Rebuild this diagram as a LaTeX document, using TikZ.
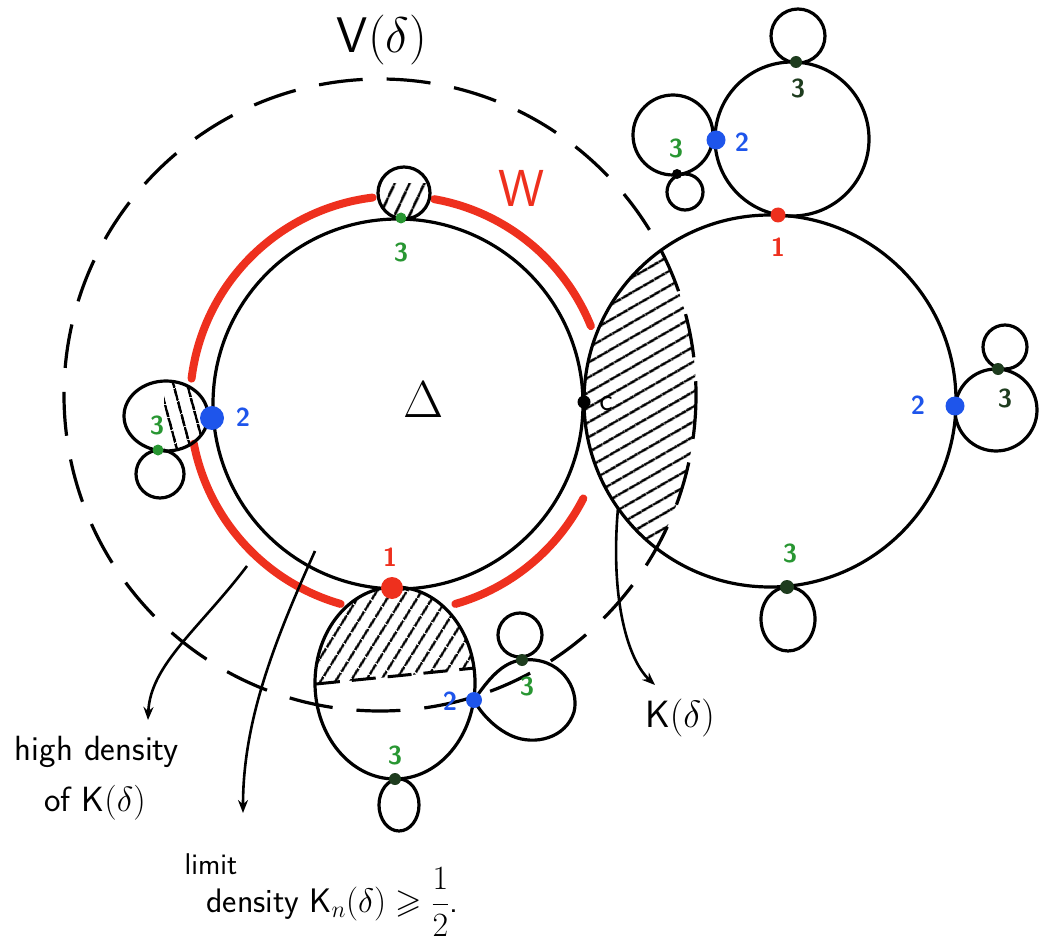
\documentclass[tikz,border=0pt]{standalone}
\usepackage{fix-cm}
\usepackage{amssymb}
\usepackage{amsmath}
\usepackage{tikz}
\usetikzlibrary{arrows.meta,patterns.meta}
\definecolor{wred}{RGB}{238,48,30}
\definecolor{vblue}{RGB}{30,85,235}
\definecolor{vgreen}{RGB}{40,150,50}
\definecolor{vdark}{RGB}{30,60,30}
\newcommand{\handsz}[1]{\fontsize{#1}{#1}\selectfont\sffamily}
\tikzset{%
  edge/.style={%
    line width=3.2pt
  },
  warc/.style={%
    draw=wred,
    line width=8pt,
    line cap=round
  },
  vline/.style={%
    line width=3.2pt,
    dash pattern=on 44pt off 24pt
  },
  ptr/.style={%
    -{Stealth[length=13pt,width=10pt]},
    line width=2.6pt
  },
  hatch/.style={%
    pattern={Lines[angle=#1,distance=13pt,line width=2.8pt]}
  },
  vdot/.style={%
    circle,
    fill=#1,
    inner sep=0pt,
    minimum size=12pt
  },
  lbl/.style={%
    text=#1,
    font=\handsz{26}\bfseries
  },
  txt/.style={%
    font=\handsz{35},
    align=center
  }
}

\begin{document}
\begin{tikzpicture}[x=1pt,y=-1pt]
    \useasboundingbox (0,0) rectangle (1039,941);

    % hatched parts
    \begin{scope}
      \clip (770,401) circle (186);
      \fill[hatch=30] (380,395) circle (316);
    \end{scope}
    \begin{scope}
      \clip (395,683) ellipse (80 and 96);
      \fill[hatch=58] (305,580) -- (485,580) -- (485,668) -- (305,685) -- cycle;
    \end{scope}
    \begin{scope}
      \clip (404,193) circle (26);
      \fill[hatch=65] (370,184) rectangle (440,225);
    \end{scope}
    \begin{scope}
      \clip (166,416) ellipse (42 and 35);
      \fill[hatch=105] (164,370) rectangle (220,460);
    \end{scope}

    % W around Delta
    \draw[warc] (398,404) ++(-22:208) arc[start angle=-22,end angle=-80,radius=208];
    \draw[warc] (398,404) ++(-97:208) arc[start angle=-97,end angle=-173,radius=208];
    \draw[warc] (398,404) ++(106:208) arc[start angle=106,end angle=169,radius=208];
    \draw[warc] (398,404) ++(27:208) arc[start angle=27,end angle=74,radius=208];
    \node[font=\handsz{52},text=wred] (w) at (522,188) {W};

    % V(delta)
    \draw[vline] (380,395) circle (316);
    \node[font=\handsz{50}] (v) at (382,40) {V$(\delta)$};

    % the two big circles
    \draw[edge] (398,404) circle (185);
    \draw[edge] (770,401) circle (186);
    \node[font=\handsz{52}] (delta) at (424,400) {$\Delta$};
    \node[font=\handsz{32}] (clab) at (606,404) {c};

    % bottom circle of Delta
    \draw[edge] (395,683) ellipse (80 and 96);
    \draw[line width=3pt,dash pattern=on 24pt off 12pt] (316,684) -- (475,668);
    \draw[edge] (474,700) .. controls (488,680) and (502,662) .. (522,660)
      .. controls (560,656) and (580,688) .. (574,712)
      .. controls (566,738) and (535,746) .. (512,736)
      .. controls (494,728) and (480,712) .. (474,700);
    \draw[edge] (520,635) circle (22);
    \draw[edge] (399,805) ellipse (20 and 26);

    % loops on Delta
    \draw[edge] (404,193) circle (26);
    \draw[edge] (166,416) ellipse (42 and 35);
    \draw[edge] (160,474) circle (24);

    % loops on the right circle
    \draw[edge] (792,139) circle (77);
    \draw[edge] (798,36) circle (27);
    \draw[edge] (673,135) circle (40);
    \draw[edge] (685,192) circle (18);
    \draw[edge] (996,410) circle (41);
    \draw[edge] (1005,347) circle (22);
    \draw[edge] (788,619) ellipse (27 and 32);

    % vertices
    \node[vdot=black,minimum size=13pt] (c) at (584,402) {};
    \node[vdot=wred,minimum size=22pt] (d1) at (392,588) {};
    \node[vdot=wred,minimum size=15pt] (r1) at (778,215) {};
    \node[vdot=vblue,minimum size=24pt] (d2) at (212,418) {};
    \node[vdot=vblue,minimum size=19pt] (t2) at (716,140) {};
    \node[vdot=vblue,minimum size=19pt] (r2) at (955,406) {};
    \node[vdot=vblue,minimum size=16pt] (b2) at (474,700) {};
    \node[vdot=vgreen,minimum size=11pt] (d3) at (401,218) {};
    \node[vdot=vgreen,minimum size=11pt] (l3) at (158,450) {};
    \node[vdot=vdark,minimum size=12pt] (bb3) at (522,660) {};
    \node[vdot=vdark,minimum size=12pt] (b3) at (395,779) {};
    \node[vdot=vdark,minimum size=14pt] (r3) at (787,587) {};
    \node[vdot=vdark,minimum size=12pt] (t3) at (796,62) {};
    \node[vdot=vdark,minimum size=12pt] (rr3) at (998,369) {};
    \node[vdot=black,minimum size=10pt] (tl) at (677,174) {};

    % labels of the vertices
    \node[lbl=wred] (l1a) at (390,557) {1};
    \node[lbl=wred] (l1b) at (778,247) {1};
    \node[lbl=vblue] (l2a) at (243,417) {2};
    \node[lbl=vblue] (l2b) at (742,142) {2};
    \node[lbl=vblue] (l2c) at (918,405) {2};
    \node[lbl=vblue] (l2d) at (450,701) {2};
    \node[lbl=vgreen] (l3a) at (401,252) {3};
    \node[lbl=vgreen] (l3b) at (157,425) {3};
    \node[lbl=vgreen] (l3c) at (527,686) {3};
    \node[lbl=vgreen] (l3d) at (395,755) {3};
    \node[lbl=vgreen] (l3e) at (790,553) {3};
    \node[lbl=vdark] (l3f) at (798,88) {3};
    \node[lbl=vgreen] (l3g) at (676,148) {3};
    \node[lbl=vdark] (l3h) at (1005,398) {3};

    % texts and arrows
    \node[txt] (hd) at (97,752) {high density};
    \node[txt] (hdk) at (95,803) {of K$(\delta)$};
    \node[txt,font=\handsz{38}] (k) at (680,718) {K$(\delta)$};
    \node[font=\handsz{30}] (lim) at (211,864) {limit};
    \node[font=\handsz{34},anchor=west] (dens) at (203,902)
      {density K$_n(\delta)\geqslant\dfrac{1}{2}$.};
    \coordinate (hdfrom) at (247,566);
    \coordinate (hdto) at (148,720);
    \coordinate (limfrom) at (315,551);
    \coordinate (limto) at (243,813);
    \coordinate (kfrom) at (618,508);
    \coordinate (kto) at (655,685);
    \draw[ptr] (hdfrom) .. controls (200,628) and (150,665) .. (hdto);
    \draw[ptr] (limfrom) .. controls (275,640) and (243,720) .. (limto);
    \draw[ptr] (kfrom) .. controls (610,600) and (628,660) .. (kto);
\end{tikzpicture}
\end{document}
